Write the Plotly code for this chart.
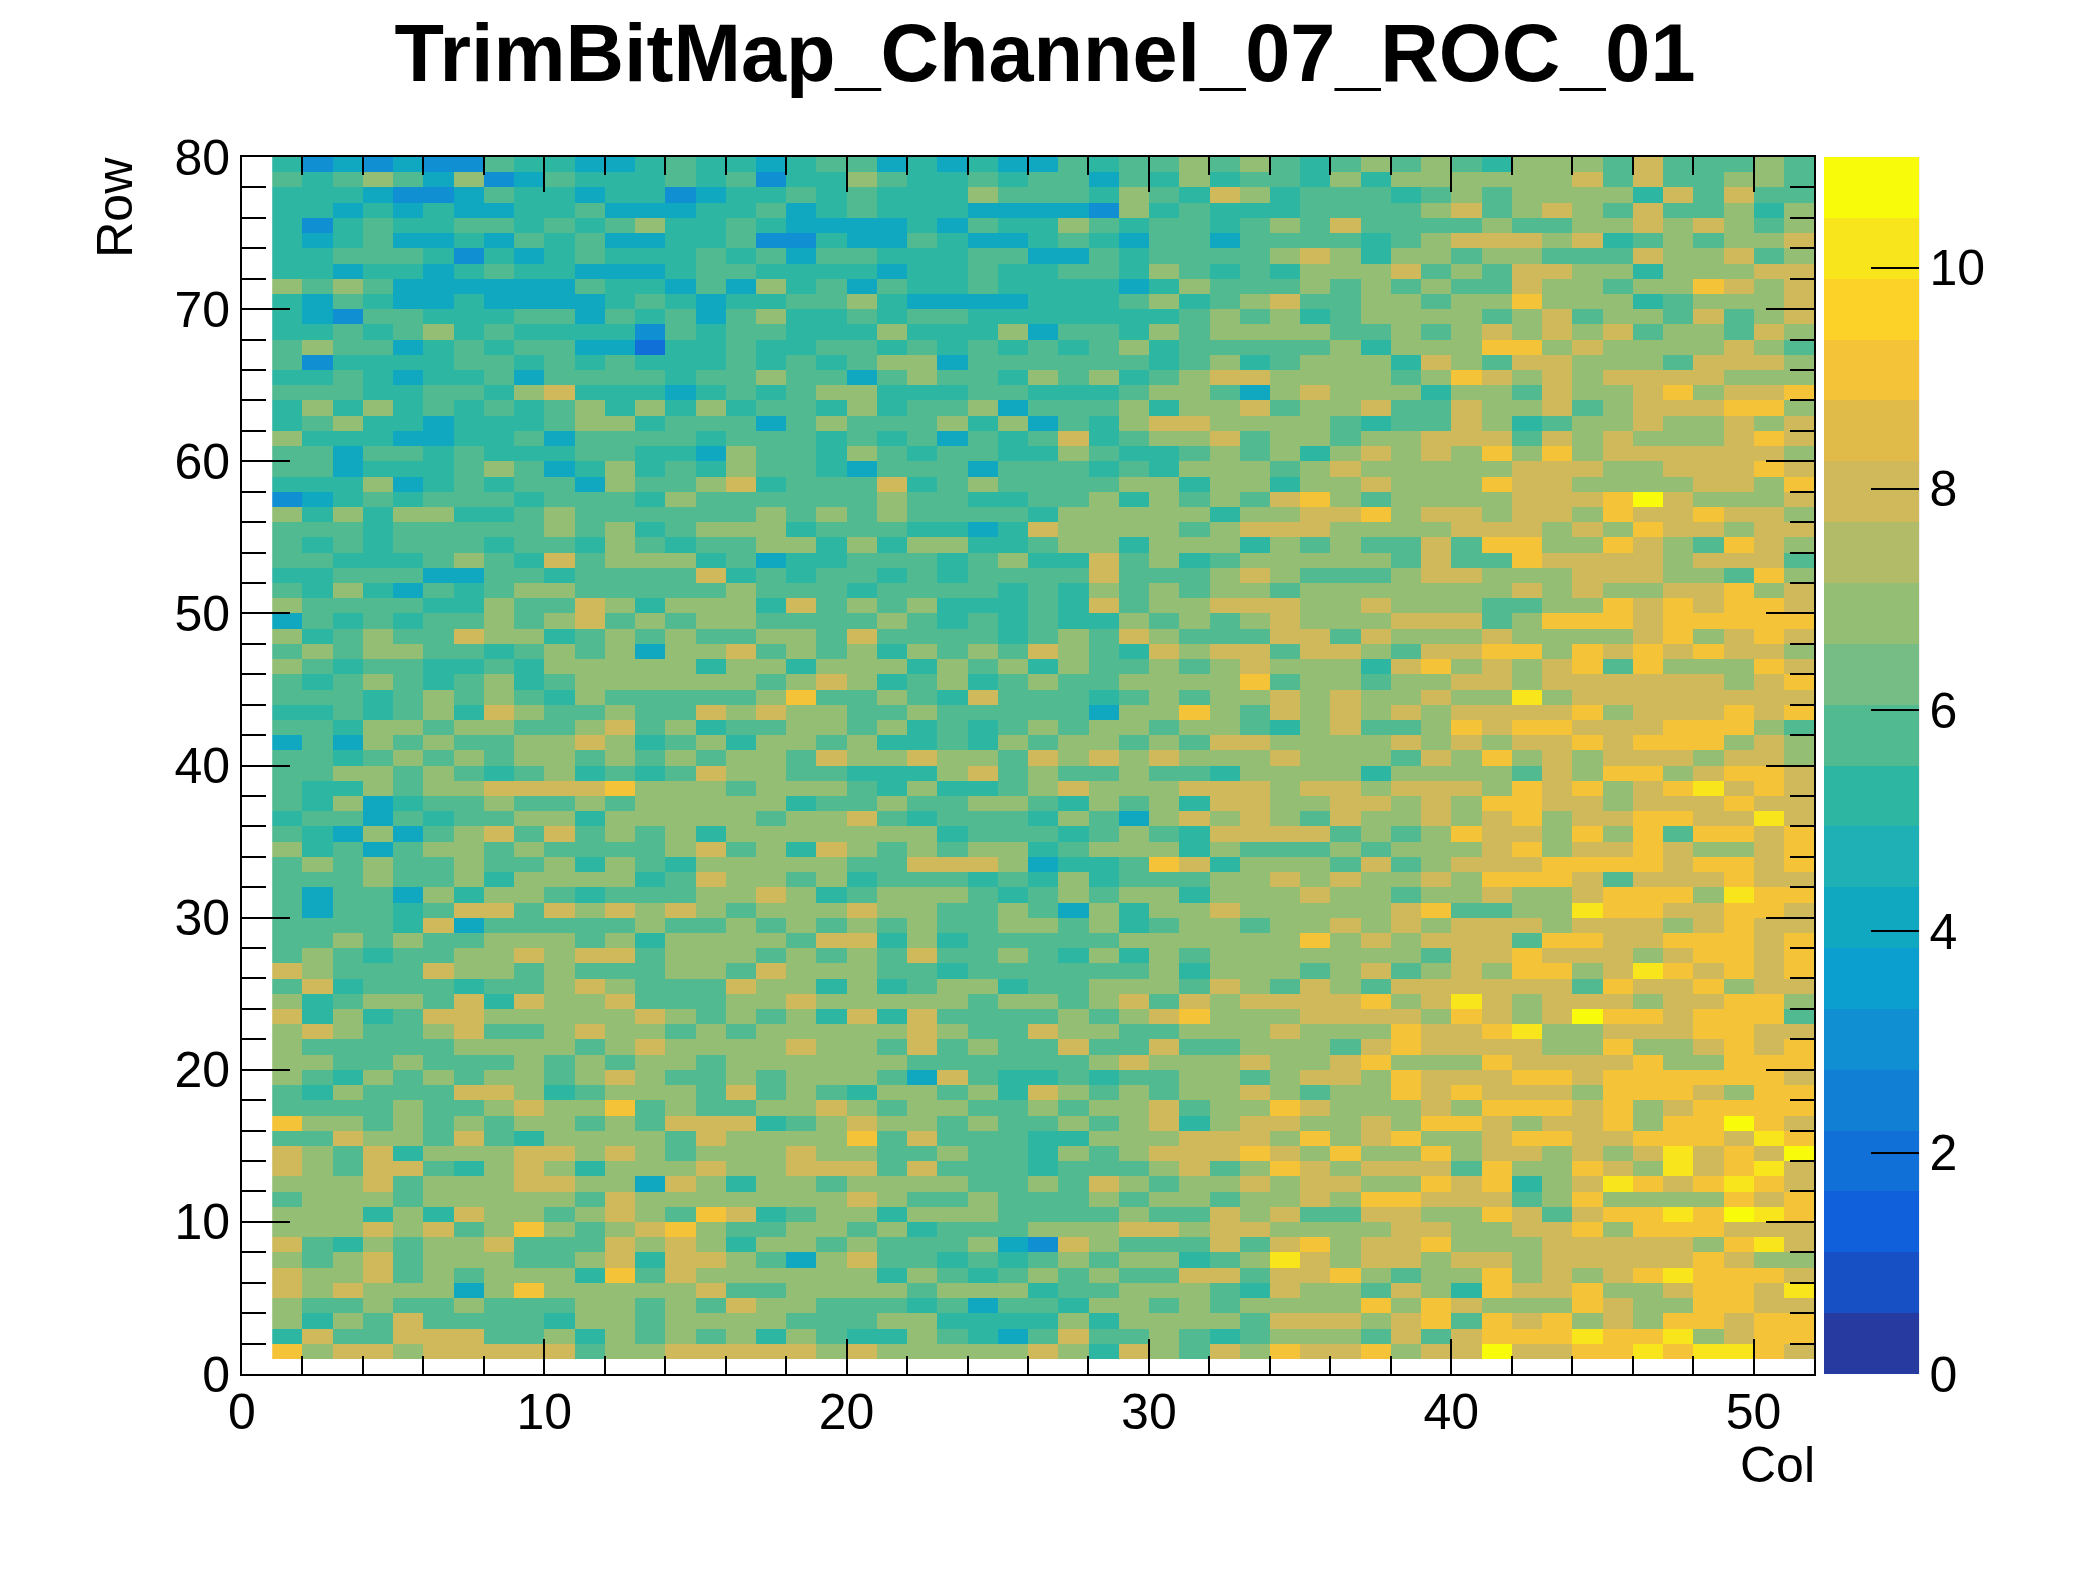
import plotly.graph_objects as go

title_text = "TrimBitMap_Channel_07_ROC_01"
x_edges = list(range(1, 53))
y_edges = list(range(1, 81))
colorbar_ticks = [0, 2, 4, 6, 8, 10]
band_colors = ["#263a9f", "#1650c4", "#1060dc", "#1070d8", "#1180d4", "#108fd3", "#0a9fcf", "#0fa8c0",
               "#1eb0b4", "#2db7a3", "#52ba90", "#75bc85", "#94be74", "#b2bb68", "#cfb95a", "#e0bb49",
               "#f4c338", "#fcd228", "#f9e51b", "#f8fb0a"]

# rows listed from the top row (Row 79) down to the bottom row (Row 1)
rows_top_down = [
[5,3,4,3,4,3,3,6,5,5,4,4,5,6,5,5,4,5,6,6,4,5,4,5,4,4,6,5,6,6,7,6,7,6,5,6,7,6,7,6,5,7,7,7,6,8,6,6,6,7,6],
[6,5,6,7,6,4,7,3,4,6,5,5,5,6,5,6,3,5,5,7,6,5,5,6,5,6,6,4,6,5,7,5,6,6,5,7,5,7,7,7,7,7,7,8,6,8,6,6,7,7,6],
[5,5,5,4,3,3,4,6,5,5,4,5,5,3,4,5,5,6,5,6,5,5,5,7,6,6,6,5,7,6,5,8,7,5,6,6,6,5,6,7,6,7,7,7,7,5,8,6,8,6,6],
[5,5,4,5,4,5,4,4,5,5,6,4,4,4,5,5,6,4,5,6,5,5,5,4,4,4,4,3,7,5,6,5,5,5,6,6,6,6,7,8,6,7,8,7,6,8,6,6,7,5,7],
[5,3,5,6,5,5,6,6,5,6,5,6,7,5,5,6,5,4,4,4,4,5,4,6,5,5,7,6,5,6,6,5,6,7,6,8,6,6,6,6,7,6,6,7,7,8,7,8,7,6,7],
[5,4,5,6,4,4,5,4,6,5,6,4,4,5,5,6,3,3,5,4,4,6,5,4,4,5,6,5,4,6,6,4,6,6,6,6,5,6,7,8,8,8,7,8,5,6,7,6,7,7,8],
[5,5,6,6,6,5,3,5,4,5,6,5,5,5,6,5,6,4,6,6,5,5,5,6,6,4,4,6,5,6,6,6,6,7,8,7,5,7,7,6,7,7,6,6,6,8,7,7,8,6,7],
[5,5,4,5,5,4,5,6,5,5,4,4,4,5,6,6,5,5,5,5,4,5,5,6,5,5,6,6,5,7,6,5,6,5,7,7,7,8,6,7,6,8,8,7,7,5,7,7,7,8,8],
[7,6,7,6,4,4,4,4,4,4,6,5,5,4,6,4,7,5,6,4,6,5,5,6,5,5,5,5,4,5,7,6,6,6,7,6,7,6,7,6,6,8,7,7,6,7,7,9,8,7,8],
[5,4,6,5,4,4,5,4,4,4,4,5,6,5,4,5,5,6,6,7,5,4,4,4,4,5,5,5,6,7,5,6,7,8,6,6,7,7,6,7,7,9,7,7,7,5,6,7,7,7,8],
[5,4,3,6,6,5,5,5,6,6,4,6,5,6,4,6,7,5,5,6,5,6,6,5,5,5,5,5,5,5,6,7,6,7,5,6,7,7,7,7,6,7,8,6,7,7,6,8,6,7,8],
[5,5,6,5,6,7,5,6,5,5,5,5,3,6,5,6,6,5,5,5,7,5,5,5,7,4,6,6,5,7,6,7,7,7,7,6,6,7,6,7,8,7,8,7,8,6,7,7,6,8,7],
[6,7,6,6,4,5,6,5,6,6,4,4,2,5,5,6,5,5,6,6,5,6,5,6,5,6,5,6,7,5,6,6,6,6,6,7,5,7,7,7,9,9,7,8,7,7,7,7,8,7,6],
[6,3,5,5,5,5,6,6,5,6,5,6,5,5,5,6,5,6,5,6,7,7,4,6,6,6,6,6,6,5,6,7,5,6,7,7,7,5,8,7,6,8,8,7,7,7,6,8,8,8,7],
[5,5,6,5,4,5,5,6,4,6,6,6,6,5,6,6,7,6,6,4,6,7,6,6,5,7,6,7,5,6,7,8,8,7,7,7,7,6,7,9,8,7,8,7,8,8,8,8,7,7,7],
[6,6,6,5,5,6,6,5,7,8,5,5,5,4,5,6,5,6,7,7,5,5,5,6,6,5,5,5,6,7,7,6,4,7,8,7,7,7,5,7,7,6,8,7,7,8,9,7,8,8,9],
[5,7,5,7,5,6,5,6,5,6,7,5,7,5,7,5,6,6,5,7,5,6,6,7,4,6,6,6,7,5,7,7,8,6,7,7,8,6,6,8,7,7,8,6,7,8,8,8,9,9,7],
[5,6,7,5,5,4,5,5,5,6,7,7,5,6,6,6,4,6,7,6,6,6,7,5,7,4,6,5,7,8,8,7,7,7,7,6,5,6,6,8,7,5,6,7,7,8,7,7,8,7,8],
[7,5,5,5,4,4,5,5,6,4,6,6,6,6,5,6,6,6,5,6,5,6,4,6,5,6,8,5,6,7,7,8,6,7,7,6,7,7,8,8,8,6,8,7,8,7,7,7,8,9,8],
[6,6,4,6,6,5,6,5,5,5,6,6,5,5,4,7,6,6,5,7,6,5,6,6,5,5,7,6,5,5,6,7,6,7,5,7,8,7,8,7,9,7,9,7,8,8,8,8,8,8,7],
[6,6,4,5,5,5,6,7,6,4,5,7,5,6,5,7,6,6,5,4,6,6,6,4,6,6,6,5,6,5,7,7,7,6,7,8,7,7,7,7,7,8,8,8,7,7,8,8,8,9,8],
[5,5,5,7,4,5,6,5,6,6,4,7,6,6,7,8,5,6,6,6,8,5,6,7,6,6,6,6,7,7,5,7,7,5,7,7,8,7,7,7,9,8,8,7,7,7,7,8,8,7,9],
[3,4,5,6,5,6,6,6,5,6,6,6,5,7,6,6,6,6,6,6,7,6,6,5,5,6,6,7,5,7,6,7,6,8,9,7,6,7,7,7,7,8,8,8,9,11,8,7,7,7,8],
[7,5,7,5,7,7,5,5,6,7,6,6,6,6,6,6,7,6,7,6,7,6,6,6,6,5,7,7,7,7,7,5,7,7,8,8,9,7,8,8,7,8,8,7,9,8,8,9,8,8,7],
[6,6,6,5,6,6,6,6,6,7,6,7,5,6,7,7,7,5,6,6,6,5,5,4,5,8,7,7,7,7,6,7,8,8,8,7,7,7,7,8,8,8,7,8,7,9,8,8,7,8,8],
[6,5,6,5,6,6,6,5,6,6,5,7,6,5,6,6,7,7,5,7,5,7,7,5,5,6,7,7,5,7,7,7,5,7,6,7,6,6,8,6,9,9,7,7,9,8,7,6,9,8,7],
[6,6,5,5,5,6,7,6,5,8,6,7,7,7,5,6,4,5,5,6,6,6,5,6,7,5,5,8,6,7,5,6,7,7,7,7,7,6,8,6,6,9,8,8,8,8,7,8,8,8,6],
[5,5,6,6,6,4,4,6,6,5,6,6,6,6,8,5,6,5,6,6,5,6,5,6,6,6,6,8,6,6,6,7,8,7,6,6,6,7,8,8,7,7,7,8,8,8,7,7,6,9,7],
[6,5,7,5,4,6,5,6,7,7,6,6,6,6,6,7,6,6,6,5,6,6,6,6,5,6,5,7,6,7,6,7,7,6,7,7,7,7,7,7,7,8,7,8,7,7,8,8,9,7,8],
[7,6,6,6,6,5,5,7,6,6,8,7,5,7,7,7,5,8,6,7,6,7,5,5,5,6,5,8,6,7,7,8,8,8,7,7,8,7,7,7,6,6,7,7,9,8,9,8,9,9,8],
[4,6,5,6,5,6,6,7,6,7,8,6,7,6,7,7,6,6,6,6,7,6,5,6,5,6,5,5,7,6,7,6,7,8,7,7,7,8,8,8,6,7,9,9,9,8,9,9,9,9,9],
[7,5,6,7,6,6,8,7,7,5,6,7,6,7,6,6,7,7,6,8,6,6,6,6,5,6,7,6,8,7,6,6,6,8,8,6,8,7,7,7,8,7,7,7,7,8,9,7,8,9,8],
[6,7,6,7,7,6,6,5,6,7,6,7,4,7,7,8,6,7,6,7,5,7,6,7,6,8,7,6,5,8,7,8,8,6,8,8,7,6,8,8,9,9,7,9,8,9,8,9,8,8,7],
[7,6,5,6,6,5,5,6,5,7,7,7,7,7,5,7,7,5,7,7,7,5,7,6,7,5,7,6,6,7,6,7,8,7,7,7,5,8,9,7,8,7,8,9,6,9,7,7,7,9,8],
[6,5,6,7,6,5,6,7,5,6,7,7,7,7,7,7,6,7,8,7,5,6,7,5,6,7,6,6,7,7,7,7,9,6,7,7,6,7,7,8,8,7,8,8,8,8,8,8,7,8,9],
[6,6,6,5,6,7,6,7,6,5,7,6,6,6,6,6,7,9,6,6,7,6,5,8,6,6,6,5,6,7,6,7,7,8,7,8,7,7,8,7,7,10,7,8,8,8,8,8,8,8,8],
[5,5,6,5,6,7,5,8,7,6,6,7,6,6,8,7,8,7,7,6,6,7,6,6,6,6,6,4,7,7,9,7,6,8,7,8,7,8,7,8,8,8,8,9,7,8,8,8,9,8,9],
[6,6,5,7,7,6,7,7,6,6,7,8,6,7,5,6,6,7,7,6,7,5,6,5,6,7,6,7,7,6,7,7,6,5,7,8,6,6,7,9,8,9,9,8,8,8,9,9,9,7,6],
[4,6,4,7,6,7,6,6,7,7,8,7,5,6,7,5,7,7,6,7,5,5,6,5,7,6,7,7,6,7,6,8,8,7,7,7,7,8,7,8,7,8,8,9,8,9,9,9,7,8,7],
[6,6,5,6,7,6,7,6,7,7,6,7,6,7,6,7,7,6,8,7,7,8,7,7,6,8,7,8,7,8,7,7,7,8,7,7,7,6,8,7,9,7,8,7,8,8,8,7,8,8,7],
[6,6,7,7,6,7,6,5,6,7,5,6,5,6,8,7,7,6,6,5,5,5,7,8,6,7,6,6,7,6,6,5,7,7,7,7,5,7,7,7,7,6,8,7,9,9,7,8,9,9,8],
[6,5,5,7,6,7,7,8,8,8,8,9,7,7,7,6,7,7,7,6,5,7,5,5,6,7,8,7,7,7,8,8,8,7,8,8,7,8,8,8,7,9,8,9,7,8,9,10,8,9,8],
[6,5,7,4,5,6,6,7,6,6,7,6,7,7,7,7,7,5,6,6,7,6,6,7,7,6,5,7,6,7,5,8,8,7,7,8,8,7,8,7,9,9,8,8,7,8,8,8,9,8,8],
[5,6,6,4,6,5,6,6,7,7,5,7,7,7,7,7,6,7,7,8,6,5,6,6,6,5,7,6,4,7,8,7,8,7,6,8,7,7,8,7,8,9,7,8,8,9,9,8,8,10,8],
[6,5,4,7,4,6,7,8,6,8,6,7,6,7,5,7,7,7,7,7,7,7,5,6,6,6,5,6,7,6,5,8,8,8,8,6,7,6,7,9,8,8,7,9,7,9,6,9,9,8,9],
[7,5,6,4,6,7,7,6,7,6,6,6,6,7,8,6,7,5,8,7,6,7,6,7,7,5,6,7,7,7,5,7,6,6,6,7,6,7,7,7,8,9,7,8,8,9,8,7,7,8,9],
[6,7,6,7,6,6,7,6,6,7,5,7,6,5,7,7,7,7,7,6,6,8,8,8,7,4,5,5,6,9,8,5,7,7,7,6,8,6,7,8,8,8,9,9,9,9,8,9,9,8,9],
[6,6,6,7,6,6,7,5,7,7,7,7,5,6,8,7,7,6,7,5,6,6,6,5,6,5,7,5,6,6,6,7,7,8,7,8,7,7,8,7,9,9,9,8,6,8,8,8,9,8,8],
[6,4,6,6,4,7,5,7,7,6,5,6,6,6,7,7,8,7,5,6,7,7,7,6,5,6,7,6,7,7,5,7,7,7,8,7,7,6,7,7,8,7,7,8,9,9,9,7,10,9,9],
[6,4,6,6,5,6,8,8,6,8,7,8,7,8,7,6,7,7,7,8,7,7,6,6,7,6,4,7,5,7,7,8,7,7,7,7,7,8,9,6,6,7,7,10,9,9,8,8,9,9,8],
[6,6,6,6,5,8,4,6,6,6,6,6,7,6,6,7,6,7,6,7,6,7,6,6,7,7,6,7,5,6,7,7,6,7,7,8,7,8,7,8,8,8,7,8,8,8,7,8,9,8,8],
[6,6,7,6,7,6,6,7,7,7,6,7,5,7,7,7,7,6,8,8,5,7,5,6,6,6,6,6,7,7,7,7,7,7,9,7,8,7,8,8,8,6,9,9,8,8,9,9,9,8,9],
[6,7,6,5,6,6,7,7,8,7,8,8,6,7,7,7,6,7,6,7,6,8,6,6,7,6,5,7,5,7,6,7,7,7,7,7,7,7,6,8,8,9,8,8,8,7,8,9,9,8,9],
[8,7,6,6,6,8,7,7,6,7,6,6,6,7,7,6,8,7,7,7,6,6,5,6,6,6,6,6,6,7,5,7,7,7,6,7,8,6,7,8,7,9,9,7,8,10,9,8,9,8,9],
[6,8,5,6,6,6,5,6,6,7,8,7,6,6,6,8,7,7,5,7,5,6,7,7,5,6,6,7,7,7,6,8,7,6,8,7,6,8,8,8,8,8,8,6,9,8,8,9,7,8,8],
[7,5,6,7,7,6,8,5,8,7,7,8,6,6,6,7,7,8,7,7,7,7,7,6,7,7,6,7,8,6,8,7,8,8,8,8,9,7,8,10,8,7,8,8,8,7,8,8,9,9,7],
[8,5,7,5,6,8,8,7,7,7,7,7,8,7,6,7,6,7,5,8,5,8,6,6,6,6,7,6,7,8,9,7,7,7,8,8,8,8,7,9,8,7,8,11,9,9,8,9,9,9,6],
[7,8,7,6,6,7,8,6,6,7,8,7,7,6,7,6,7,7,7,7,7,8,7,6,6,8,7,7,6,6,7,7,7,8,7,7,7,9,8,8,9,10,7,7,8,8,8,9,9,8,8],
[7,6,6,6,6,6,7,7,7,7,6,7,8,7,7,7,7,8,7,7,6,8,6,7,6,6,8,6,6,8,6,6,7,7,7,6,8,9,8,8,8,8,7,7,9,7,7,8,9,8,9],
[7,7,6,6,7,6,6,6,7,6,7,6,7,7,6,7,7,7,7,7,7,6,6,6,6,6,6,7,8,7,7,7,8,7,7,8,9,7,7,7,9,8,8,8,8,9,7,7,9,9,9],
[7,6,5,7,6,7,6,7,7,6,7,8,7,6,6,7,6,7,7,7,6,4,8,6,5,5,6,5,6,6,7,7,6,7,8,8,7,9,8,8,8,9,9,8,9,9,9,9,9,9,8],
[6,5,7,6,6,6,8,8,7,5,6,7,7,7,6,8,6,7,6,5,7,7,6,7,5,8,7,6,7,6,7,7,8,7,6,7,7,9,8,9,8,8,8,7,9,9,9,8,7,9,9],
[6,6,6,6,7,6,6,7,8,7,7,9,6,7,6,6,7,7,8,7,6,7,7,6,6,7,6,7,7,8,6,7,7,9,8,7,7,7,8,7,9,9,9,8,9,7,8,9,9,9,9],
[9,7,7,6,7,6,7,6,7,7,6,7,6,8,8,8,5,6,7,8,7,7,6,7,6,6,7,6,7,8,5,7,8,8,7,7,8,7,9,9,8,7,8,8,9,7,9,9,11,9,8],
[6,6,8,7,7,6,8,6,5,7,7,7,7,6,8,7,7,7,7,9,6,8,6,6,6,5,5,7,7,7,8,8,8,7,9,7,8,9,7,7,8,9,9,8,8,9,9,9,8,10,9],
[8,7,6,8,5,7,7,7,8,8,7,8,7,6,7,7,7,8,7,7,6,6,7,6,6,5,7,6,7,8,8,8,9,8,7,9,7,7,9,7,8,8,7,8,7,8,10,8,9,8,11],
[8,7,6,8,8,6,5,7,8,7,5,7,7,7,8,7,7,8,8,8,6,8,6,6,6,5,6,6,6,7,8,6,7,9,8,7,8,8,8,6,9,7,7,9,8,7,10,8,9,10,8],
[7,7,7,8,6,7,7,7,8,8,7,7,4,8,7,5,7,7,6,7,7,7,7,6,6,7,6,8,7,6,7,7,8,7,8,8,7,7,9,8,9,5,7,8,10,9,8,9,10,9,8],
[6,7,7,7,6,7,7,7,7,7,6,8,7,7,7,7,7,7,7,8,7,6,6,7,6,6,6,7,6,7,7,6,7,7,8,7,9,9,8,8,8,6,7,9,7,7,7,7,9,8,9],
[7,7,7,5,7,5,8,7,7,6,7,8,7,6,9,8,5,6,7,7,5,7,7,7,6,6,6,6,7,6,6,8,7,8,6,6,8,8,7,7,9,8,6,8,9,9,10,9,11,10,9],
[7,7,7,8,7,8,6,7,9,7,6,7,8,9,7,6,6,7,7,6,7,5,6,6,6,7,7,7,8,8,7,8,8,7,7,7,7,8,8,7,7,8,8,9,7,9,9,9,8,8,8],
[8,6,5,7,6,7,7,8,6,6,6,8,7,8,7,5,7,7,6,7,6,6,6,7,4,3,8,7,6,6,6,8,6,8,9,7,8,8,9,7,7,7,8,8,8,8,8,7,9,10,8],
[7,6,7,8,6,7,7,7,6,6,7,8,5,8,8,7,6,4,7,8,6,6,5,6,5,6,7,6,7,7,5,6,7,10,8,7,8,8,7,8,8,7,8,8,8,8,8,9,8,7,7],
[8,7,7,8,6,7,6,7,7,7,5,9,6,8,7,7,7,7,7,7,5,7,6,5,6,7,6,7,6,6,8,8,6,8,8,9,7,6,7,7,9,7,8,7,8,9,10,9,9,9,8],
[8,7,8,7,7,7,4,7,9,7,7,7,7,7,8,6,6,7,7,7,7,6,7,7,7,5,6,6,7,7,7,6,5,8,7,7,6,8,7,5,9,8,8,9,7,7,8,9,9,8,10],
[7,6,6,7,6,6,7,6,6,6,7,7,6,7,6,8,7,7,6,6,6,5,6,4,6,6,5,7,7,6,7,6,7,7,7,7,9,7,9,8,7,7,7,9,8,7,7,9,9,8,8],
[7,5,7,6,8,6,6,6,6,5,7,7,6,7,7,7,7,6,6,6,7,7,5,5,5,5,7,5,7,7,7,7,6,8,8,8,7,8,9,6,9,8,9,7,8,7,9,9,8,9,9],
[5,8,6,6,8,8,8,6,6,7,5,7,6,7,6,7,5,7,6,5,5,7,6,5,4,6,8,6,6,7,6,5,6,7,7,7,6,8,6,8,9,9,9,10,9,9,10,7,8,9,9],
[9,7,8,8,7,8,8,8,8,8,6,7,7,8,8,8,8,8,7,8,7,7,7,7,7,8,7,5,8,7,6,8,7,9,8,8,9,7,8,8,11,8,8,9,9,10,9,10,10,9,8],
]
z_values = rows_top_down[::-1]

n_bands = len(band_colors)
colorscale = []
for i, c in enumerate(band_colors):
    colorscale.append([i / n_bands, c])
    colorscale.append([(i + 1) / n_bands, c])

fig = go.Figure(go.Heatmap(
    x=x_edges, y=y_edges, z=z_values, zmin=0, zmax=11,
    colorscale=colorscale, hoverongaps=False,
    colorbar=dict(
        x=1.0061, xanchor="left", xpad=0, y=0, yanchor="bottom", ypad=0,
        len=1, lenmode="fraction", thickness=94.5, thicknessmode="pixels",
        outlinewidth=0, tickmode="array", tickvals=colorbar_ticks,
        ticks="inside", ticklen=48, tickwidth=1.5, tickcolor="black",
        ticklabelposition="outside",
        tickfont=dict(family="Liberation Sans", size=50, color="black"),
    ),
))

axis_common = dict(
    showgrid=False, zeroline=False, showline=True, linecolor="black", linewidth=2,
    mirror="allticks", ticks="inside", tickcolor="black", tickwidth=1.8,
    tickfont=dict(family="Liberation Sans", size=50, color="black"),
    tick0=0, dtick=10, layer="above traces",
)
fig.update_xaxes(range=[0, 52], ticklen=35, ticklabelstandoff=-7,
                 minor=dict(ticks="inside", ticklen=18, dtick=2, tick0=0, tickcolor="black", tickwidth=1.8, showgrid=False),
                 **axis_common)
fig.update_yaxes(range=[0, 80], ticklen=48, ticklabelstandoff=0,
                 minor=dict(ticks="inside", ticklen=24, dtick=2, tick0=0, tickcolor="black", tickwidth=1.8, showgrid=False),
                 **axis_common)

fig.update_layout(
    width=2080, height=1556, autosize=False,
    margin=dict(l=234, r=274, t=148.5, b=189.5, pad=0),
    paper_bgcolor="white", plot_bgcolor="white",
    title=dict(text=title_text, x=1037 / 2080, xanchor="center", xref="container",
               y=1 - 45 / 1556, yanchor="middle", yref="container",
               font=dict(family="Liberation Sans", size=81, color="black", weight="bold")),
    annotations=[
        dict(text="Col", xref="paper", yref="paper", x=1.002, y=-0.075, xanchor="right", yanchor="middle",
             showarrow=False, font=dict(family="Liberation Sans", size=50, color="black")),
        dict(text="Row", xref="paper", yref="paper", x=-0.081, y=1.002, xanchor="center", yanchor="top",
             textangle=-90, showarrow=False, font=dict(family="Liberation Sans", size=50, color="black")),
    ],
    shapes=[dict(type="line", xref="paper", yref="paper", x0=1.0662, x1=1.0662, y0=0, y1=1,
                 line=dict(color="black", width=2))],
)

fig.write_html("out.html")
